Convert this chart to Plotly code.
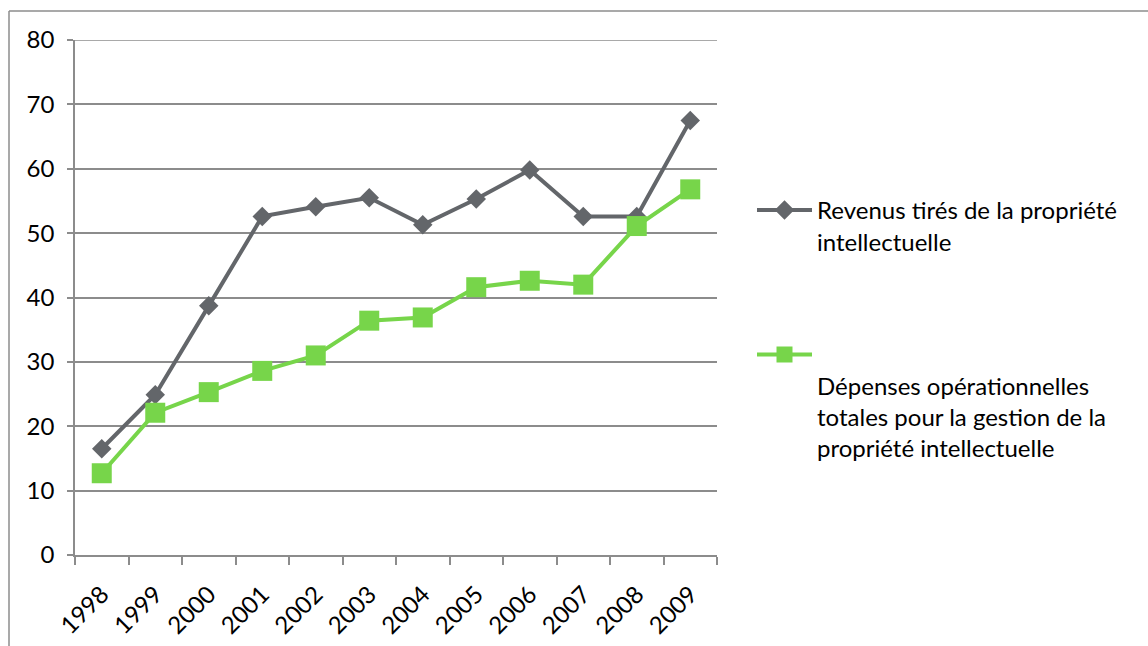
import plotly.graph_objects as go

years = ["1998", "1999", "2000", "2001", "2002", "2003", "2004", "2005", "2006", "2007", "2008", "2009"]
revenus = [16.5, 24.9, 38.7, 52.6, 54.1, 55.5, 51.3, 55.3, 59.8, 52.6, 52.6, 67.5]
depenses = [12.7, 22.1, 25.3, 28.6, 31.0, 36.4, 36.9, 41.6, 42.6, 42.0, 51.1, 56.8]
name_rev = "Revenus tirés de la propriété<br>intellectuelle"
name_dep = " <br>Dépenses opérationnelles<br>totales pour la gestion de la<br>propriété intellectuelle"

GRAY = "#63666a"
GREEN = "#77d54a"
GRID = "#8c8c8c"
FONT = "Lato"
FS = 24

fig = go.Figure()
fig.add_trace(go.Scatter(x=years, y=revenus, mode="lines+markers", name=name_rev,
                         legendgroup="a",
                         line=dict(color=GRAY, width=4),
                         marker=dict(symbol="diamond", size=15, color=GRAY)))
fig.add_trace(go.Scatter(x=years, y=depenses, mode="lines+markers", name=name_dep,
                         legendgroup="b",
                         line=dict(color=GREEN, width=4),
                         marker=dict(symbol="square", size=20, color=GREEN)))

W, H = 1148, 646
L, R, T, B = 75, W - 717, 40, H - 555
pw, ph = W - L - R, H - T - B

def px2x(p):
    return (p - L) / pw

def py2y(p):
    return (H - B - p) / ph

fig.update_layout(
    width=W, height=H,
    margin=dict(l=L, r=R, t=T, b=B, autoexpand=False),
    paper_bgcolor="white", plot_bgcolor="white",
    font=dict(family=FONT, size=FS, color="#000000"),
    showlegend=True,
    legend=dict(x=px2x(752), y=py2y(188), xanchor="left", yanchor="top",
                traceorder="grouped", tracegroupgap=79, valign="top",
                itemwidth=55,
                font=dict(family=FONT, size=FS, color="#000000"),
                bgcolor="rgba(0,0,0,0)"),
    xaxis=dict(type="category", range=[-0.5, len(years) - 0.5],
               tickson="boundaries", ticks="outside", ticklen=8,
               tickcolor=GRID, tickwidth=1.5, tickangle=-45, automargin=False,
               showgrid=False, showline=True, linecolor=GRID, linewidth=1.5,
               ticklabelstandoff=14,
               tickfont=dict(family=FONT, size=FS)),
    yaxis=dict(range=[0, 80], dtick=10, ticks="outside", ticklen=6, automargin=False,
               tickcolor=GRID, tickwidth=1.5, showgrid=True, gridcolor=GRID,
               gridwidth=1.5, showline=True, linecolor=GRID, linewidth=1.5,
               zeroline=False, ticklabelstandoff=8,
               tickfont=dict(family=FONT, size=FS)),
    shapes=[
        dict(type="line", xref="paper", yref="paper", x0=px2x(9), x1=px2x(1160),
             y0=py2y(11), y1=py2y(11), line=dict(color=GRID, width=1.5)),
        dict(type="line", xref="paper", yref="paper", x0=px2x(9), x1=px2x(9),
             y0=py2y(11), y1=py2y(660), line=dict(color=GRID, width=1.5)),
        dict(type="line", xref="paper", yref="y", x0=px2x(69), x1=1,
             y0=80, y1=80, line=dict(color=GRID, width=1.5), layer="below"),
    ],
)

fig.write_html("out.html", config={"displayModeBar": False},
               post_script="document.body.style.margin='0';document.body.style.padding='0';")
